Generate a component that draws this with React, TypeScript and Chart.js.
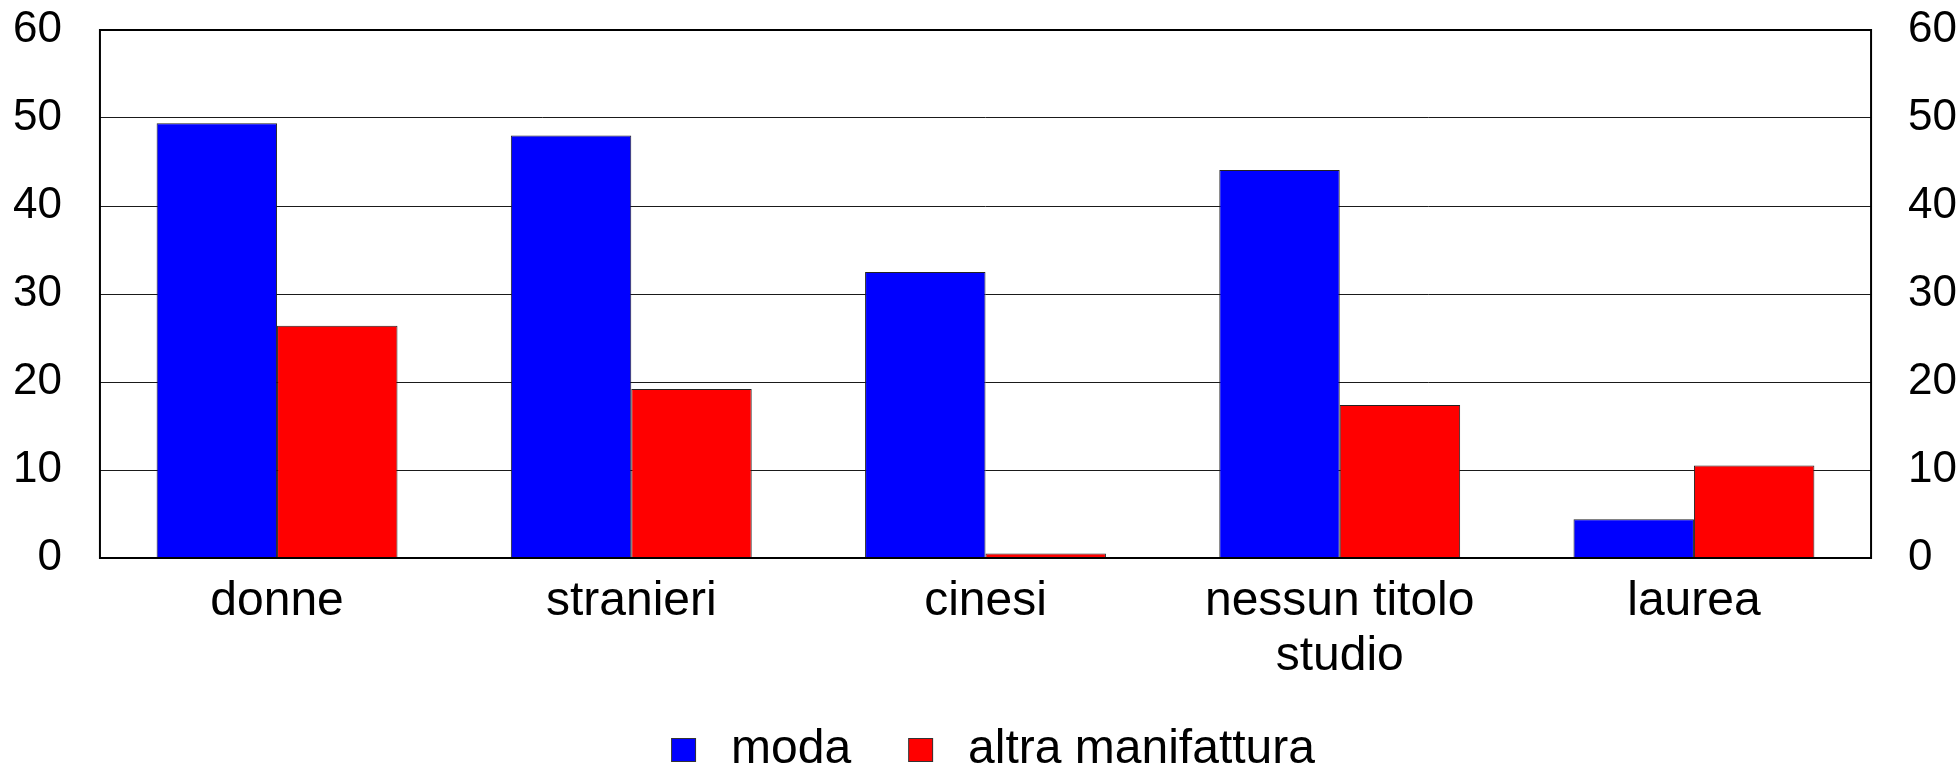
import React, { useEffect, useRef } from "react";
import { Chart, registerables } from "chart.js";

Chart.register(...registerables);

const categories: (string | string[])[] = ["donne", "stranieri", "cinesi", ["nessun titolo", "studio"], "laurea"];
const modaValues = [49.4, 48.0, 32.5, 44.1, 4.4];
const altraValues = [26.4, 19.2, 0.5, 17.4, 10.5];
const seriesNames = ["moda", "altra manifattura"];
const seriesColors = ["#0000FF", "#FF0000"];
const tickValues = [0, 10, 20, 30, 40, 50, 60];

const FONT = "'Liberation Sans', Arial, sans-serif";

function makeLegendSwatch(color: string): HTMLCanvasElement {
  const c = document.createElement("canvas");
  c.width = 52;
  c.height = 24;
  const ctx = c.getContext("2d")!;
  ctx.fillStyle = color;
  ctx.fillRect(16, 0, 25, 24);
  ctx.strokeStyle = "#333333";
  ctx.lineWidth = 1;
  ctx.strokeRect(16.5, 0.5, 24, 23);
  return c;
}

const framePlugin = {
  id: "frame",
  afterDatasetsDraw(chart: any) {
    const { ctx, chartArea } = chart;
    ctx.save();
    ctx.strokeStyle = "#000000";
    ctx.lineWidth = 2;
    ctx.strokeRect(chartArea.left, chartArea.top, chartArea.right - chartArea.left, chartArea.bottom - chartArea.top);
    ctx.restore();
  },
};

const fitVertical = (scale: any) => {
  scale.width = scale.width - scale.options.ticks.padding;
  scale.paddingTop = 0;
  scale.paddingBottom = 0;
};

export default function App() {
  const ref = useRef<HTMLCanvasElement | null>(null);

  useEffect(() => {
    if (!ref.current) return;
    const swatches = seriesColors.map(makeLegendSwatch);
    const chart = new Chart(ref.current, {
      type: "bar",
      data: {
        labels: categories,
        datasets: [
          {
            label: seriesNames[0],
            data: modaValues,
            backgroundColor: seriesColors[0],
            borderColor: "#222222",
            borderWidth: 1,
            categoryPercentage: 0.68,
            barPercentage: 1.0,
            yAxisID: "y",
          },
          {
            label: seriesNames[1],
            data: altraValues,
            backgroundColor: seriesColors[1],
            borderColor: "#222222",
            borderWidth: 1,
            categoryPercentage: 0.68,
            barPercentage: 1.0,
            yAxisID: "y",
          },
        ],
      },
      options: {
        responsive: false,
        animation: false,
        layout: { padding: { left: 13, right: 3, top: 30, bottom: 0 } },
        plugins: {
          tooltip: { enabled: false },
          legend: {
            position: "bottom",
            labels: {
              font: { family: FONT, size: 48 },
              color: "#000000",
              usePointStyle: true,
              pointStyleWidth: 52,
              boxHeight: 24,
              padding: 41,
              generateLabels: (ch: any) => {
                const items = Chart.defaults.plugins.legend.labels.generateLabels(ch);
                return items.map((it: any, i: number) => ({ ...it, pointStyle: swatches[i] }));
              },
            },
          },
        },
        scales: {
          x: {
            grid: { display: false, drawTicks: false },
            border: { display: false },
            afterFit: (scale: any) => {
              scale.height = 127;
            },
            ticks: {
              font: { family: FONT, size: 48, lineHeight: 1.15 },
              color: "#000000",
              padding: 16,
              maxRotation: 0,
              autoSkip: false,
            },
          },
          y: {
            position: "left",
            min: 0,
            max: 60,
            afterBuildTicks: (scale: any) => {
              scale.ticks = tickValues.map((v) => ({ value: v }));
            },
            afterFit: fitVertical,
            grid: { color: "#1a1a1a", lineWidth: 1, drawTicks: false },
            border: { display: false },
            ticks: {
              font: { family: FONT, size: 44 },
              color: "#000000",
              padding: 38,
            },
          },
          y1: {
            position: "right",
            min: 0,
            max: 60,
            afterBuildTicks: (scale: any) => {
              scale.ticks = tickValues.map((v) => ({ value: v }));
            },
            afterFit: fitVertical,
            grid: { display: false, drawTicks: false },
            border: { display: false },
            ticks: {
              font: { family: FONT, size: 44 },
              color: "#000000",
              padding: 37,
            },
          },
        },
      },
      plugins: [framePlugin],
    });
    return () => chart.destroy();
  }, []);

  return (
    <div style={{ position: "absolute", left: 0, top: 0, width: 1960, height: 768, overflow: "hidden", background: "#fff" }}>
      <canvas ref={ref} width={1960} height={784} style={{ display: "block", width: 1960, height: 784 }} />
    </div>
  );
}
